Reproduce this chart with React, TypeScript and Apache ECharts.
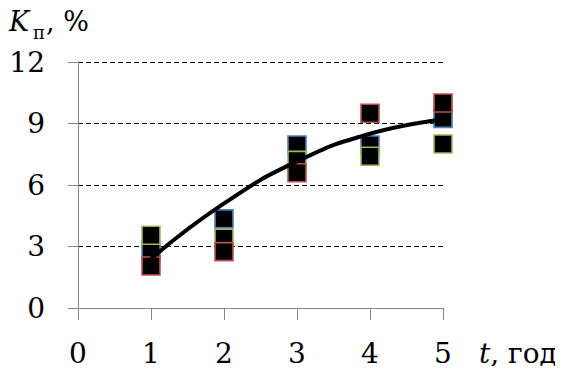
import React, { useEffect, useRef } from "react";
import * as echarts from "echarts";

// Years of observation (x) and measured K_п values (%) for three sample groups
const years = [1, 2, 3, 4, 5];
const groupBlue = [2.8, 4.35, 7.95, 7.95, 9.25];
const groupGreen = [3.55, 3.4, 7.2, 7.4, 8.0];
const groupRed = [2.05, 2.75, 6.6, 9.5, 10.0];
// Smoothed trend through the measurements
const trendValues = [2.4, 5.1, 7.15, 8.5, 9.2];

const xTicks = [0, 1, 2, 3, 4, 5];
const yTicks = [0, 3, 6, 9, 12];

const FONT = "DejaVu Serif";
const AXIS_GREY = "#868686";

const pairs = (vals: number[]) => years.map((x, i) => [x, vals[i]]);

function markerSeries(name: string, vals: number[], border: string) {
  return {
    name,
    type: "scatter",
    data: pairs(vals),
    symbol: "rect",
    symbolSize: 18,
    itemStyle: { color: "#000", borderColor: border, borderWidth: 1.6, opacity: 1 },
    z: 3,
  };
}

export default function App() {
  const ref = useRef<HTMLDivElement>(null);

  useEffect(() => {
    if (!ref.current) return;
    const chart = echarts.init(ref.current, undefined, { renderer: "svg" });
    chart.setOption({
      animation: false,
      backgroundColor: "#fff",
      textStyle: { fontFamily: FONT },
      grid: { left: 78, right: 120, top: 62, bottom: 66, containLabel: false },
      xAxis: {
        type: "value",
        min: xTicks[0],
        max: xTicks[xTicks.length - 1],
        interval: 1,
        axisLine: { show: true, lineStyle: { color: AXIS_GREY, width: 1 } },
        axisTick: { show: true, inside: false, length: 12, lineStyle: { color: AXIS_GREY } },
        axisLabel: { margin: 31, fontFamily: FONT, fontSize: 28, color: "#000" },
        splitLine: { show: false },
      },
      yAxis: {
        type: "value",
        min: yTicks[0],
        max: yTicks[yTicks.length - 1],
        interval: 3,
        axisLine: { show: true, lineStyle: { color: AXIS_GREY, width: 1 } },
        axisTick: { show: true, inside: false, length: 10, lineStyle: { color: AXIS_GREY } },
        axisLabel: { margin: 33, fontFamily: FONT, fontSize: 28, color: "#000" },
        splitLine: {
          show: true,
          showMinLine: false,
          lineStyle: { color: "#000", type: [5, 3], width: 1 },
        },
      },
      graphic: [
        {
          type: "text",
          left: 9,
          top: 8,
          style: { text: "K", fontFamily: FONT, fontStyle: "italic", fontSize: 27, fill: "#000" },
        },
        {
          type: "text",
          left: 33,
          top: 23,
          style: { text: "п", fontFamily: FONT, fontSize: 18, fill: "#000" },
        },
        {
          type: "text",
          left: 46,
          top: 8,
          style: { text: ", %", fontFamily: FONT, fontSize: 27, fill: "#000" },
        },
        {
          type: "text",
          left: 479,
          top: 339,
          style: {
            text: "{i|t}{n|, год}",
            rich: {
              i: { fontFamily: FONT, fontStyle: "italic", fontSize: 28, fill: "#000" },
              n: { fontFamily: FONT, fontSize: 28, fill: "#000" },
            },
          },
        },
      ],
      series: [
        markerSeries("Група 1", groupBlue, "#4f81bd"),
        markerSeries("Група 2", groupGreen, "#9bbb59"),
        markerSeries("Група 3", groupRed, "#c0504d"),
        {
          name: "Тренд",
          type: "line",
          data: pairs(trendValues),
          smooth: true,
          symbol: "none",
          lineStyle: { color: "#000", width: 4 },
          z: 4,
        },
      ],
    });
    return () => chart.dispose();
  }, []);

  return <div ref={ref} style={{ width: 563, height: 374, margin: -8 }} />;
}
